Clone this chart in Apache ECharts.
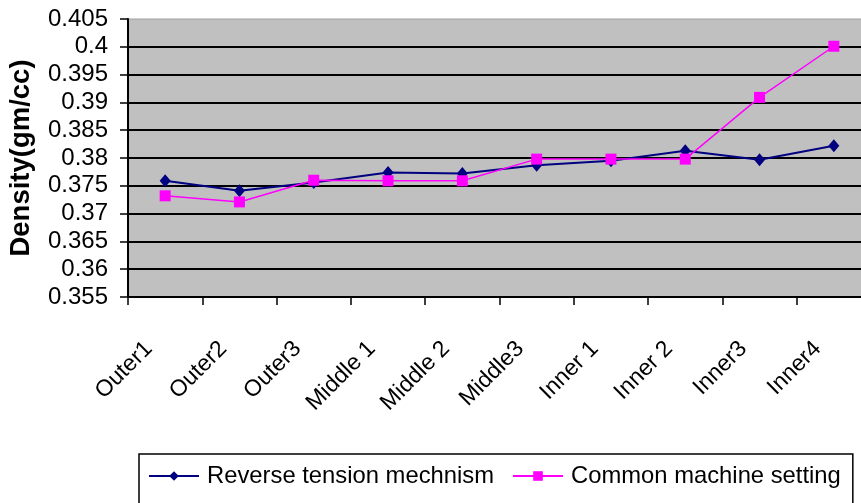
<!DOCTYPE html>
<html>
<head>
<meta charset="utf-8">
<script src="https://cdn.jsdelivr.net/npm/echarts@6/dist/echarts.min.js"></script>
<style>
html,body{margin:0;padding:0;background:#fff;}
#chart{width:861px;height:503px;}
</style>
</head>
<body>
<div id="chart"></div>
<script>
const categories = ['Outer1', 'Outer2', 'Outer3', 'Middle 1', 'Middle 2', 'Middle3', 'Inner 1', 'Inner 2', 'Inner3', 'Inner4'];
const reverseTension = [0.3759, 0.3741, 0.3756, 0.3774, 0.3772, 0.3787, 0.3795, 0.3813, 0.3797, 0.3822];
const commonMachine = [0.3732, 0.3721, 0.3760, 0.3759, 0.3759, 0.3798, 0.3798, 0.3798, 0.3909, 0.4001];
const seriesNames = ['Reverse tension mechnism', 'Common machine setting'];
const yAxisName = 'Density(gm/cc)';
const yMin = 0.355, yMax = 0.405, yStep = 0.005;

const FONT = '"Liberation Sans", Arial, sans-serif';
const chart = echarts.init(document.getElementById('chart'), null, {renderer: 'canvas'});
chart.setOption({
  animation: false,
  backgroundColor: '#ffffff',
  grid: {
    left: 128, top: 19, width: 743, height: 278,
    containLabel: false, outerBoundsMode: 'none',
    show: true, backgroundColor: '#c0c0c0', borderColor: '#a0a0a0', borderWidth: 1
  },
  legend: {
    left: 139, top: 454,
    orient: 'horizontal',
    itemWidth: 50, itemHeight: 12, itemGap: 18,
    padding: [10, 12, 40, 9],
    backgroundColor: '#ffffff',
    borderColor: '#000000', borderWidth: 1.5,
    textStyle: {fontFamily: FONT, fontSize: 23.8, color: '#000', padding: [0, 0, 0, 3]},
    data: seriesNames
  },
  xAxis: {
    type: 'category',
    data: categories,
    boundaryGap: true,
    axisLine: {show: true, lineStyle: {color: '#000', width: 2}},
    axisTick: {show: true, length: 8, lineStyle: {color: '#000', width: 1.5}},
    axisLabel: {
      interval: 0, rotate: 45, margin: 32, padding: [0, 23, 0, 0],
      fontFamily: FONT, fontSize: 23, color: '#000'
    },
    splitLine: {show: false}
  },
  yAxis: {
    type: 'value',
    min: yMin, max: yMax, interval: yStep,
    name: yAxisName,
    nameLocation: 'middle',
    nameGap: 93,
    nameRotate: 90,
    nameTextStyle: {fontFamily: FONT, fontSize: 27.5, fontWeight: 'bold', color: '#000'},
    axisLine: {show: true, lineStyle: {color: '#000', width: 2}},
    axisTick: {show: true, length: 8, lineStyle: {color: '#000', width: 1.5}},
    axisLabel: {
      margin: 20, fontFamily: FONT, fontSize: 24, color: '#000',
      formatter: v => String(+v.toFixed(3))
    },
    splitLine: {show: true, showMinLine: false, showMaxLine: false, lineStyle: {color: '#000', width: 2}}
  },
  series: [
    {
      name: seriesNames[0], type: 'line', data: reverseTension,
      symbol: 'diamond', symbolSize: [11, 13],
      lineStyle: {color: '#000080', width: 2},
      itemStyle: {color: '#000080'}
    },
    {
      name: seriesNames[1], type: 'line', data: commonMachine,
      symbol: 'rect', symbolSize: 11,
      lineStyle: {color: '#ff00ff', width: 1.5},
      itemStyle: {color: '#ff00ff'}
    }
  ]
});
</script>
</body>
</html>
